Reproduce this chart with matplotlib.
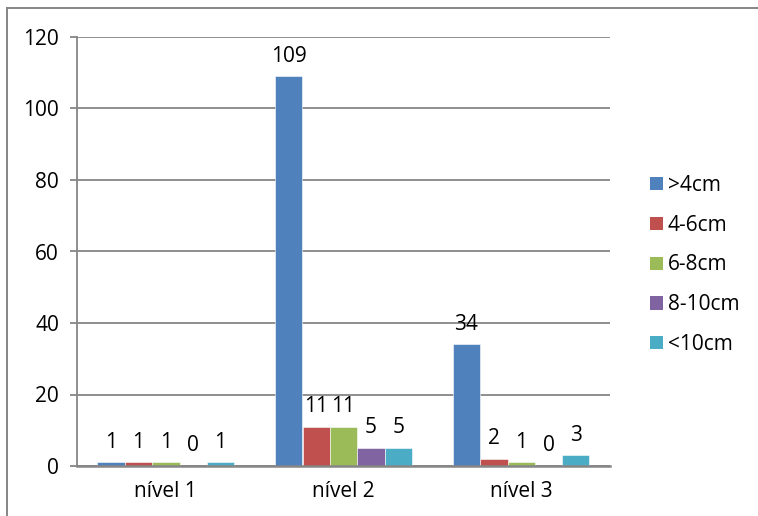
import matplotlib
matplotlib.use("Agg")
import matplotlib.pyplot as plt
import numpy as np
from matplotlib.patches import Patch
from matplotlib.lines import Line2D

# Data
categories = ["nível 1", "nível 2", "nível 3"]
series_names = [">4cm", "4-6cm", "6-8cm", "8-10cm", "<10cm"]
gt4 = [1, 109, 34]
s4_6 = [1, 11, 2]
s6_8 = [1, 11, 1]
s8_10 = [0, 5, 0]
lt10 = [1, 5, 3]
series_values = [gt4, s4_6, s6_8, s8_10, lt10]
colors = ["#4F81BD", "#C0504D", "#9BBB59", "#8064A2", "#4BACC6"]
y_ticks = [0, 20, 40, 60, 80, 100, 120]

plt.rcParams["font.family"] = ["Open Sans", "DejaVu Sans"]
FS = 15

fig = plt.figure(figsize=(7.58, 5.16), dpi=100)
ax = fig.add_axes([77 / 758, 50 / 516, (610 - 77) / 758, (466 - 37) / 516])

n = len(series_values)
gap = 1.5
width = 1.0 / (n + gap)
x = np.arange(len(categories))
grid_color = "#868686"

for i, (vals, c) in enumerate(zip(series_values, colors)):
    offs = (i - (n - 1) / 2) * width
    bars = ax.bar(x + offs, vals, width=width, color=c, edgecolor="white",
                  linewidth=0.4, zorder=3)
    for b, v in zip(bars, vals):
        ax.annotate(str(v), (b.get_x() + b.get_width() / 2, v),
                    xytext=(0, 7), textcoords="offset points",
                    ha="center", va="bottom", fontsize=FS, color="black")

ax.set_xlim(-0.5, len(categories) - 0.5)
ax.set_ylim(0, 120)
ax.set_yticks(y_ticks)
ax.set_xticks(x)
ax.set_xticklabels(categories)
ax.yaxis.grid(True, color=grid_color, linewidth=1.3, zorder=0)
ax.set_axisbelow(True)

for s in ["top", "right"]:
    ax.spines[s].set_visible(False)
ax.spines["left"].set_color(grid_color)
ax.spines["left"].set_linewidth(1.3)
ax.spines["bottom"].set_color(grid_color)
ax.spines["bottom"].set_linewidth(1.8)
ax.spines["bottom"].set_zorder(4)

ax.tick_params(axis="y", length=5, width=1.3, color=grid_color, pad=8,
               labelsize=FS)
ax.tick_params(axis="x", length=0, pad=11, labelsize=FS)

handles = [Patch(facecolor=c, edgecolor="none") for c in colors]
fig.legend(handles, series_names, loc="center left",
           bbox_to_anchor=(650 / 758, 1 - 265 / 516), frameon=False,
           fontsize=FS, handlelength=0.6, handleheight=0.6,
           handletextpad=0.25, labelspacing=0.9, borderpad=0,
           borderaxespad=0)

# outer chart border (left and top edges)
fig.add_artist(Line2D([7 / 758, 7 / 758], [0, 1 - 8 / 516],
                      transform=fig.transFigure, color=grid_color, lw=1.4))
fig.add_artist(Line2D([7 / 758, 1], [1 - 8 / 516, 1 - 8 / 516],
                      transform=fig.transFigure, color=grid_color, lw=1.4))

fig.savefig("out.png", dpi=100)
